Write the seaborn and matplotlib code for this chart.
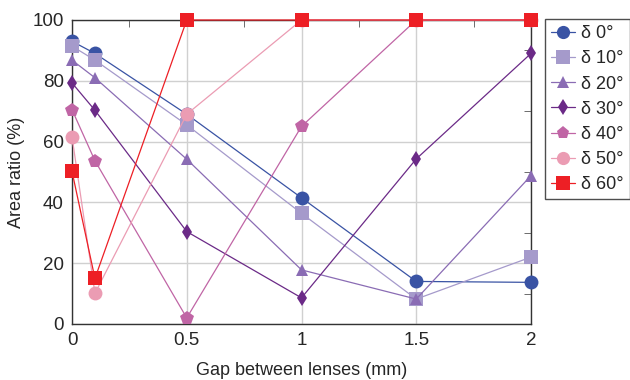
import matplotlib
matplotlib.use("Agg")
import matplotlib.pyplot as plt
import seaborn as sns
import pandas as pd
from matplotlib.ticker import MultipleLocator

gaps = [0, 0.1, 0.5, 1, 1.5, 2]
labels = ["δ 0°", "δ 10°", "δ 20°", "δ 30°", "δ 40°", "δ 50°", "δ 60°"]
d0 = [93, 89, 69, 41.5, 14, 13.7]
d10 = [91.4, 86.8, 65.5, 36.4, 8.2, 22]
d20 = [86.8, 81, 54.2, 17.8, 8.2, 48.8]
d30 = [79.3, 70.3, 30.4, 8.6, 54.3, 89]
d40 = [70.5, 53.7, 2, 65, 100, 100]
d50 = [61.6, 10.1, 69, 100, 100, 100]
d60 = [50.2, 15, 100, 100, 100, 100]
series = [d0, d10, d20, d30, d40, d50, d60]

colors = ["#3953a4", "#a59acb", "#8a6cb4", "#6b2a87", "#c065a5", "#eb9cb3", "#ed1f25"]
markers = ["o", "s", "^", "d", "p", "o", "s"]

rows = []
for lab, vals in zip(labels, series):
    for g, v in zip(gaps, vals):
        rows.append({"gap": g, "ratio": v, "series": lab})
df = pd.DataFrame(rows)

sns.set_style("white")
plt.rcParams["font.family"] = ["Liberation Sans", "DejaVu Sans"]

fig = plt.figure(figsize=(6.3, 3.8), dpi=100)
ax = fig.add_axes([72 / 630, 1 - 324 / 380, (531 - 72) / 630, (324 - 20) / 380])

sns.lineplot(data=df, x="gap", y="ratio", hue="series", style="series",
             palette=dict(zip(labels, colors)), markers=dict(zip(labels, markers)),
             dashes=False, markersize=10, linewidth=0.9, markeredgewidth=0,
             ax=ax, legend=True, clip_on=False, zorder=3)

for ln in ax.get_lines():
    if ln.get_marker() == "d":
        ln.set_markersize(8)
    elif ln.get_marker() == "^":
        ln.set_markersize(9)

ax.set_xlim(0, 2)
ax.set_ylim(0, 100)
ax.xaxis.set_major_locator(MultipleLocator(0.5))
ax.xaxis.set_minor_locator(MultipleLocator(0.25))
ax.yaxis.set_major_locator(MultipleLocator(20))
ax.yaxis.set_minor_locator(MultipleLocator(10))
ax.set_xticks([0, 0.5, 1, 1.5, 2])
ax.set_xticklabels(["0", "0.5", "1", "1.5", "2"])
ax.grid(True, which="major", color="#d0d0d0", linewidth=1)
ax.tick_params(which="both", direction="in", top=True, right=True, labelsize=13.5, color="#555555")
ax.tick_params(which="major", length=0, pad=6)
ax.tick_params(which="minor", length=5)
for s in ax.spines.values():
    s.set_color("#333333")
    s.set_linewidth(1)
ax.set_xlabel("Gap between lenses (mm)", fontsize=13, labelpad=9)
ax.set_ylabel("Area ratio (%)", fontsize=13, labelpad=5)

leg = ax.legend(loc="upper left", fontsize=13, frameon=True, fancybox=False, edgecolor="#222222",
                handlelength=1.3, handletextpad=0.35, borderpad=0.35, labelspacing=0.45,
                borderaxespad=0, markerscale=0.95)
leg.set_bbox_to_anchor((545 / 630, 1 - 19 / 380), transform=fig.transFigure)
leg.get_frame().set_linewidth(1)
for h in leg.legend_handles:
    if h.get_marker() == "d":
        h.set_markersize(8)

fig.savefig("out.png", dpi=100)
